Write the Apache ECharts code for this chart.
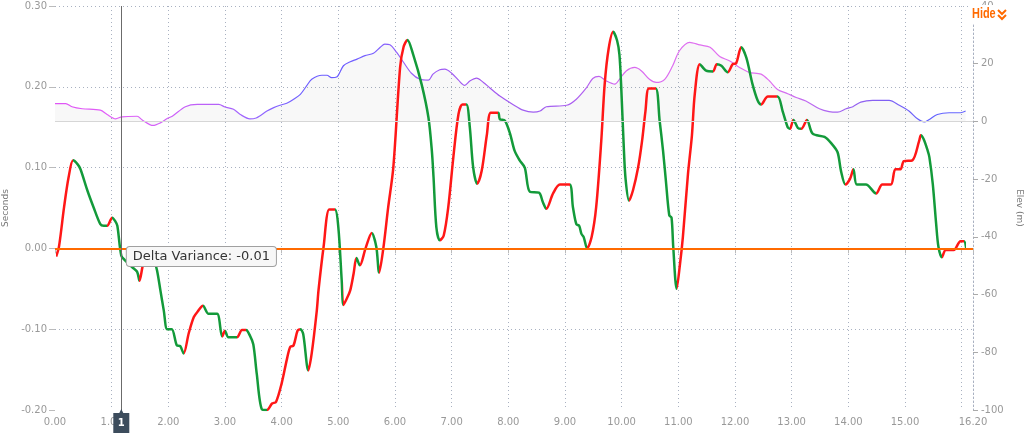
<!DOCTYPE html>
<html>
<head>
<meta charset="utf-8">
<script src="https://cdn.jsdelivr.net/npm/echarts@6/dist/echarts.min.js"></script>
<style>
  html, body { margin: 0; background: #fff; }
  #chart { width: 1024px; height: 442px; }
</style>
</head>
<body>
<div id="chart"></div>
<script>
// distance (x) and delta variance in seconds
const deltaX = [0.02, 0.07, 0.16, 0.24, 0.32, 0.40, 0.45, 0.57, 0.68, 0.80, 0.86, 0.92, 1.01, 1.06, 1.10, 1.17, 1.24, 1.36, 1.45, 1.49,
  1.55, 1.63, 1.68, 1.74, 1.80, 1.86, 1.92, 1.98, 2.06, 2.15, 2.21, 2.27, 2.36, 2.45, 2.53, 2.61, 2.71, 2.86, 2.95, 3.00,
  3.06, 3.21, 3.30, 3.37, 3.44, 3.50, 3.56, 3.65, 3.74, 3.83, 3.90, 4.00, 4.09, 4.15, 4.21, 4.28, 4.33, 4.38, 4.47, 4.53,
  4.62, 4.65, 4.74, 4.84, 4.94, 5.00, 5.06, 5.09, 5.15, 5.21, 5.27, 5.32, 5.38, 5.48, 5.59, 5.67, 5.72, 5.79, 5.88, 5.97,
  6.09, 6.15, 6.22, 6.32, 6.47, 6.59, 6.65, 6.68, 6.73, 6.79, 6.86, 6.94, 7.03, 7.12, 7.19, 7.26, 7.32, 7.38, 7.45, 7.53,
  7.62, 7.69, 7.82, 7.85, 7.94, 8.03, 8.11, 8.20, 8.29, 8.38, 8.54, 8.61, 8.67, 8.79, 8.91, 9.08, 9.14, 9.20, 9.25, 9.29,
  9.33, 9.39, 9.47, 9.55, 9.64, 9.70, 9.77, 9.85, 9.92, 9.96, 9.99, 10.04, 10.07, 10.13, 10.20, 10.29, 10.36, 10.42, 10.48, 10.60,
  10.67, 10.73, 10.78, 10.84, 10.88, 10.91, 10.97, 11.03, 11.08, 11.17, 11.24, 11.29, 11.38, 11.49, 11.61, 11.68, 11.76, 11.87, 11.96, 12.02,
  12.11, 12.20, 12.31, 12.40, 12.46, 12.58, 12.75, 12.84, 12.93, 12.97, 13.03, 13.11, 13.17, 13.27, 13.37, 13.58, 13.70, 13.81, 13.87, 13.95,
  14.03, 14.09, 14.15, 14.31, 14.49, 14.60, 14.75, 14.83, 14.92, 14.98, 15.13, 15.25, 15.28, 15.33, 15.40, 15.43, 15.49, 15.55, 15.59, 15.65,
  15.72, 15.86, 15.98, 16.04, 16.08];
const deltaY = [-0.010, 0.002, 0.051, 0.088, 0.109, 0.104, 0.098, 0.072, 0.051, 0.030, 0.028, 0.028, 0.038, 0.034, 0.028, -0.009, -0.015, -0.023, -0.029, -0.040,
  -0.021, -0.004, -0.002, -0.012, -0.027, -0.052, -0.077, -0.100, -0.100, -0.120, -0.121, -0.130, -0.105, -0.085, -0.077, -0.071, -0.081, -0.081, -0.109, -0.102,
  -0.110, -0.110, -0.101, -0.101, -0.108, -0.119, -0.155, -0.199, -0.200, -0.192, -0.190, -0.167, -0.138, -0.122, -0.120, -0.102, -0.100, -0.106, -0.151, -0.130,
  -0.077, -0.052, 0.002, 0.048, 0.048, 0.026, -0.040, -0.070, -0.062, -0.052, -0.031, -0.012, -0.021, 0.000, 0.019, 0.002, -0.030, -0.002, 0.051, 0.100,
  0.224, 0.249, 0.258, 0.240, 0.203, 0.162, 0.121, 0.088, 0.026, 0.010, 0.016, 0.051, 0.113, 0.166, 0.178, 0.178, 0.150, 0.100, 0.080, 0.096,
  0.140, 0.168, 0.168, 0.160, 0.158, 0.142, 0.121, 0.109, 0.100, 0.070, 0.069, 0.057, 0.049, 0.068, 0.079, 0.079, 0.051, 0.030, 0.028, 0.018,
  0.014, 0.000, 0.014, 0.051, 0.133, 0.203, 0.247, 0.268, 0.257, 0.240, 0.203, 0.121, 0.085, 0.059, 0.072, 0.100, 0.133, 0.170, 0.198, 0.198,
  0.158, 0.121, 0.084, 0.041, 0.038, 0.002, -0.050, -0.019, 0.014, 0.092, 0.140, 0.191, 0.228, 0.220, 0.219, 0.228, 0.226, 0.218, 0.228, 0.229,
  0.249, 0.236, 0.203, 0.183, 0.178, 0.188, 0.188, 0.170, 0.150, 0.148, 0.159, 0.149, 0.148, 0.159, 0.142, 0.138, 0.130, 0.119, 0.096, 0.079,
  0.086, 0.098, 0.079, 0.079, 0.068, 0.079, 0.079, 0.098, 0.098, 0.108, 0.109, 0.133, 0.140, 0.135, 0.121, 0.113, 0.080, 0.030, 0.002, -0.011,
  -0.002, -0.002, 0.009, 0.009, 0.000];

// distance (x) and elevation in metres
const elevX = [0.00, 0.19, 0.30, 0.48, 0.80, 0.92, 1.07, 1.18, 1.45, 1.54, 1.73, 1.86, 1.98, 2.07, 2.30, 2.51, 2.89, 3.00, 3.15, 3.27,
  3.44, 3.55, 3.62, 3.74, 3.86, 3.97, 4.09, 4.21, 4.33, 4.44, 4.53, 4.71, 4.80, 4.88, 4.97, 5.09, 5.21, 5.33, 5.47, 5.62,
  5.74, 5.82, 5.91, 6.03, 6.15, 6.29, 6.44, 6.59, 6.67, 6.79, 6.88, 7.00, 7.12, 7.23, 7.32, 7.44, 7.56, 7.67, 7.85, 8.08,
  8.26, 8.44, 8.56, 8.67, 9.03, 9.20, 9.38, 9.49, 9.60, 9.73, 9.88, 9.96, 10.08, 10.23, 10.35, 10.49, 10.61, 10.76, 10.90, 11.02,
  11.20, 11.38, 11.56, 11.73, 11.90, 12.08, 12.25, 12.46, 12.61, 12.75, 12.93, 13.08, 13.25, 13.49, 13.66, 13.81, 13.96, 14.08, 14.22, 14.43,
  14.72, 14.90, 15.07, 15.22, 15.34, 15.43, 15.57, 15.78, 15.98, 16.07];
const elevY = [6.2, 6.2, 5.1, 4.4, 3.9, 2.4, 0.9, 1.6, 1.8, 0.5, -1.4, -0.5, 1.0, 1.8, 5.1, 5.9, 5.9, 5.0, 4.2, 2.4,
  0.9, 1.2, 2.0, 3.6, 4.8, 5.6, 6.3, 7.7, 9.4, 12.3, 14.6, 16.0, 16.0, 15.2, 15.4, 19.3, 20.7, 21.6, 22.8, 23.6,
  25.7, 26.8, 26.6, 23.9, 20.5, 16.7, 14.6, 14.3, 16.4, 17.9, 18.1, 16.7, 14.3, 12.5, 14.0, 15.0, 13.5, 11.7, 8.8, 5.9,
  3.9, 3.2, 3.6, 5.1, 5.6, 7.7, 11.7, 14.9, 15.6, 14.0, 12.9, 14.6, 17.5, 18.7, 17.5, 14.6, 13.5, 14.6, 19.3, 24.5,
  27.4, 26.5, 25.7, 22.5, 21.0, 18.7, 17.0, 16.4, 14.0, 11.1, 9.6, 8.3, 7.1, 4.4, 3.4, 3.2, 4.4, 5.1, 6.7, 7.3,
  7.3, 5.6, 3.6, 0.9, -0.2, 0.7, 2.4, 3.0, 3.0, 3.6];

// cursor position and its read-out
const cursorX = 1.17;
const cursorDelta = -0.01;
const cursorTag = '1';

const RED = '#ff1717';
const GREEN = '#139a3a';
const FONT = 'DejaVu Sans';

// red where the delta rises, green where it falls, flat keeps the previous colour
let pieces = [];
let prev = RED;
for (let i = 0; i < deltaX.length - 1; i++) {
  const dy = deltaY[i + 1] - deltaY[i];
  const c = dy > 0 ? RED : dy < 0 ? GREEN : prev;
  prev = c;
  const last = pieces[pieces.length - 1];
  if (last && last.color === c) last.lt = deltaX[i + 1];
  else pieces.push({ gte: deltaX[i], lt: deltaX[i + 1], color: c });
}
pieces[pieces.length - 1].lte = pieces[pieces.length - 1].lt;
delete pieces[pieces.length - 1].lt;

// elevation line tint along the distance
const elevTint = [[0, '#e055f5'], [1.2, '#e060f8'], [2.0, '#d060f8'], [2.8, '#b862f8'], [3.5, '#9a66ff'],
  [4.3, '#7060ff'], [5.0, '#6a5cff'], [5.6, '#7860ff'], [6.2, '#9a60f8'], [7.5, '#a458f0'], [8.5, '#a060f0'],
  [9.3, '#b060f0'], [10.0, '#d868f0'], [11.5, '#e070f0'], [12.6, '#e070f0'], [13.4, '#b868f0'], [14.2, '#9060f0'],
  [15.0, '#7060f8'], [15.4, '#6060ff'], [16.07, '#6868ff']];
const elevSpan = elevX[elevX.length - 1] - elevX[0];

const gridColor = '#a9b1c1';
const chart = echarts.init(document.getElementById('chart'));
chart.setOption({
  animation: false,
  grid: { left: 55, right: 51, top: 6, bottom: 32, containLabel: false, outerBoundsMode: 'none' },
  visualMap: {
    type: 'piecewise',
    show: false,
    dimension: 0,
    seriesIndex: 1,
    pieces: pieces
  },
  xAxis: {
    type: 'value',
    min: 0,
    max: 16.2,
    interval: 1,
    axisLine: { show: false },
    axisTick: { show: true, length: 5, lineStyle: { color: '#bbb' } },
    axisLabel: {
      color: '#999', fontSize: 10, fontFamily: FONT, margin: 7,
      showMinLabel: true, showMaxLabel: true,
      formatter: v => (Math.abs(v - 16) < 1e-9 ? '' : v.toFixed(2))
    },
    splitLine: { show: true, showMinLine: false, lineStyle: { color: gridColor, type: [1, 3] } }
  },
  yAxis: [
    {
      type: 'value',
      position: 'left',
      min: -0.2,
      max: 0.3,
      interval: 0.1,
      name: 'Seconds',
      nameLocation: 'middle',
      nameRotate: 90,
      nameGap: 44,
      nameTextStyle: { color: '#777', fontSize: 9, fontFamily: FONT },
      axisLine: { show: false },
      axisTick: { show: true, length: 6, lineStyle: { color: '#bbb' } },
      axisLabel: {
        color: '#999', fontSize: 10, fontFamily: FONT, margin: 8,
        formatter: v => (Math.abs(v) < 1e-9 ? '0.00' : v.toFixed(2))
      },
      splitLine: { show: true, showMinLine: false, lineStyle: { color: gridColor, type: [1, 3] } }
    },
    {
      type: 'value',
      position: 'right',
      min: -100,
      max: 40,
      interval: 20,
      name: 'Elev (m)',
      nameLocation: 'middle',
      nameRotate: -90,
      nameGap: 40,
      nameTextStyle: { color: '#777', fontSize: 9, fontFamily: FONT },
      axisLine: { show: true, lineStyle: { color: gridColor, type: [1, 3] } },
      axisTick: { show: true, length: 5, lineStyle: { color: '#aaa' } },
      axisLabel: { color: '#999', fontSize: 10, fontFamily: FONT, margin: 8 },
      splitLine: { show: false }
    }
  ],
  series: [
    {
      name: 'Elevation',
      type: 'line',
      yAxisIndex: 1,
      z: 1,
      smooth: 0.3,
      showSymbol: false,
      data: elevX.map((x, i) => [x, elevY[i]]),
      lineStyle: {
        width: 1.2,
        color: {
          type: 'linear', x: 0, y: 0, x2: 1, y2: 0,
          colorStops: elevTint.map(s => ({ offset: (s[0] - elevX[0]) / elevSpan, color: s[1] }))
        }
      },
      areaStyle: { color: 'rgba(0,0,0,0.04)', origin: 'auto' },
      markLine: {
        silent: true,
        symbol: 'none',
        label: { show: false },
        lineStyle: { color: '#d6d6d6', width: 1, type: 'solid' },
        data: [{ yAxis: 0 }]
      }
    },
    {
      name: 'Delta Variance',
      type: 'line',
      z: 3,
      smooth: 0.3,
      showSymbol: false,
      data: deltaX.map((x, i) => [x, deltaY[i]]),
      lineStyle: { width: 2.5 },
      markLine: {
        silent: true,
        symbol: 'none',
        label: { show: false },
        data: [
          { yAxis: 0, lineStyle: { color: '#ff6a00', width: 2, type: 'solid' } },
          { xAxis: cursorX, lineStyle: { color: '#6b6b6b', width: 1, type: 'solid' } }
        ]
      },
      markPoint: {
        silent: true,
        data: [
          {
            coord: [cursorX, cursorDelta],
            symbol: 'rect',
            symbolSize: [1, 1],
            itemStyle: { color: 'rgba(0,0,0,0)' },
            label: {
              show: true,
              position: 'right',
              distance: 5,
              formatter: 'Delta Variance: ' + cursorDelta.toFixed(2),
              fontSize: 13,
              fontFamily: FONT,
              color: '#333',
              backgroundColor: '#f7f7f7',
              borderColor: '#a0a0a0',
              borderWidth: 1,
              borderRadius: 3,
              padding: [3, 6]
            }
          },
          {
            coord: [cursorX, -0.2],
            symbol: 'path://M0,4 L6,4 L8,0 L10,4 L16,4 L16,24 L0,24 Z',
            symbolSize: [16, 24],
            symbolOffset: [0, 11],
            itemStyle: { color: '#3c4c5c' },
            label: {
              show: true,
              position: 'inside',
              offset: [0, 2],
              formatter: cursorTag,
              color: '#fff',
              fontSize: 10,
              fontWeight: 'bold',
              fontFamily: FONT
            }
          }
        ]
      }
    }
  ],
  graphic: [
    { type: 'rect', z: 100, left: 970, top: 5, shape: { width: 44, height: 18 }, style: { fill: '#fff' } },
    { type: 'text', z: 101, x: 972, y: 7, scaleX: 0.78, style: { text: 'Hide', fill: '#ff6a00', font: 'bold 14px "Liberation Sans"' } },
    { type: 'polyline', z: 101, shape: { points: [[998, 10], [1002, 14], [1006, 10]] }, style: { stroke: '#ff6a00', lineWidth: 2, fill: null } },
    { type: 'polyline', z: 101, shape: { points: [[998, 15], [1002, 19], [1006, 15]] }, style: { stroke: '#ff6a00', lineWidth: 2, fill: null } }
  ]
});
</script>
</body>
</html>
